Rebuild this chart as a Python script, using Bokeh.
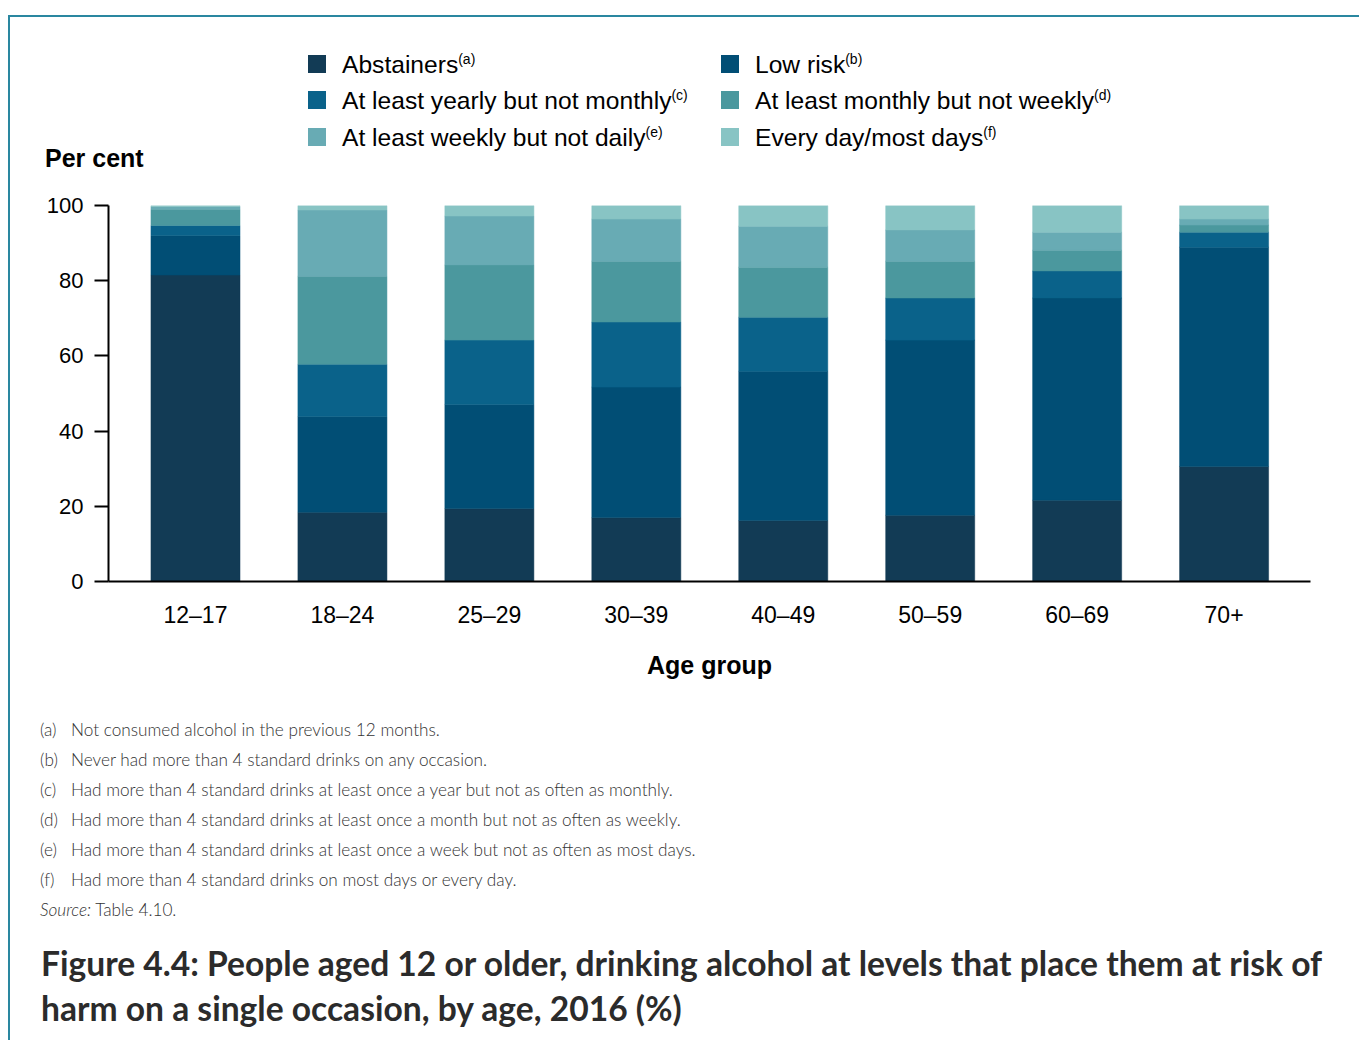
from bokeh.plotting import figure
from bokeh.models import ColumnDataSource, Range1d, FixedTicker, Div
from bokeh.layouts import column, row
from bokeh.embed import file_html
from bokeh.resources import INLINE

# ---------------- data ----------------
age_groups = ["12–17", "18–24", "25–29", "30–39", "40–49", "50–59", "60–69", "70+"]
abstainers = [81.5, 18.4, 19.4, 17.0, 16.2, 17.6, 21.6, 30.6]
low_risk = [10.5, 25.5, 27.7, 34.7, 39.7, 46.6, 53.8, 58.3]
yearly = [2.7, 13.9, 17.1, 17.3, 14.4, 11.2, 7.2, 4.0]
monthly = [4.3, 23.4, 20.0, 16.2, 13.3, 9.8, 5.5, 1.9]
weekly = [0.7, 17.6, 13.0, 11.2, 10.9, 8.3, 4.8, 1.6]
daily = [0.3, 1.2, 2.8, 3.6, 5.5, 6.5, 7.1, 3.6]
y_ticks = [0, 20, 40, 60, 80, 100]

series_keys = ["abstainers", "low_risk", "yearly", "monthly", "weekly", "daily"]
legend_labels = ["Abstainers", "Low risk", "At least yearly but not monthly",
                 "At least monthly but not weekly", "At least weekly but not daily",
                 "Every day/most days"]
legend_sups = ["(a)", "(b)", "(c)", "(d)", "(e)", "(f)"]
colors = ["#123b55", "#014e75", "#0a628a", "#4b989e", "#68abb4", "#88c4c4"]

footnote_keys = ["(a)", "(b)", "(c)", "(d)", "(e)", "(f)"]
footnotes = [
    "Not consumed alcohol in the previous 12 months.",
    "Never had more than 4 standard drinks on any occasion.",
    "Had more than 4 standard drinks at least once a year but not as often as monthly.",
    "Had more than 4 standard drinks at least once a month but not as often as weekly.",
    "Had more than 4 standard drinks at least once a week but not as often as most days.",
    "Had more than 4 standard drinks on most days or every day.",
]
title_lines = [
    "Figure 4.4: People aged 12 or older, drinking alcohol at levels that place them at risk of",
    "harm on a single occasion, by age, 2016 (%)",
]

# ---------------- layout geometry (page pixels) ----------------
W = 1359
TOP_H = 190          # legend band
MID_H = 500          # chart band
BOT_H = 350          # notes + title band
STRIP_W = 10         # left strip carrying the frame border
BORDER = "#2a87a0"
FONT = "Liberation Sans"
FL, FR, FT, FB = 108, 1310, 205, 581   # plot frame edges on the page


def box(left, top, w, h, bg):
    return (f'<div style="position:absolute;left:{left}px;top:{top}px;width:{w}px;'
            f'height:{h}px;background:{bg};"></div>')


def txt(left, yc, html, size, font=FONT, weight="normal", color="black", style="normal", lh=None):
    lh = lh or round(size * 1.2)
    return (f'<div style="position:absolute;left:{left}px;top:{yc - lh / 2:.1f}px;'
            f'font-family:\'{font}\';font-size:{size}px;line-height:{lh}px;font-weight:{weight};'
            f'font-style:{style};color:{color};white-space:nowrap;">{html}</div>')


def wrap(w, h, inner):
    return (f'<div style="position:relative;width:{w}px;height:{h}px;overflow:hidden;'
            f'margin:0;padding:0;">{inner}</div>')


# ---------------- top band: border, legend, y title ----------------
top = box(8, 15, W - 8, 2, BORDER) + box(8, 15, 2, TOP_H - 15, BORDER)
top += txt(45, 158, "Per cent", 25, weight="bold")
col_x = [308, 721]
row_y = [64, 100, 137]
for i, (lab, sup, col) in enumerate(zip(legend_labels, legend_sups, colors)):
    r, c = divmod(i, 2)
    x0, yc = col_x[c], row_y[r]
    top += box(x0, yc - 9, 18, 18, col)
    top += txt(x0 + 34, yc + 0.5,
               f'{lab}<span style="font-size:14px;vertical-align:9px;line-height:0;">{sup}</span>', 24.6)
top_div = Div(text=wrap(W, TOP_H, top), width=W, height=TOP_H, margin=0)

# ---------------- chart band ----------------
strip_div = Div(text=wrap(STRIP_W, MID_H, box(8, 0, 2, MID_H, BORDER)),
                width=STRIP_W, height=MID_H, margin=0)

PW = W - STRIP_W
positions = list(range(len(age_groups)))
source = ColumnDataSource(dict(x=positions, abstainers=abstainers, low_risk=low_risk,
                               yearly=yearly, monthly=monthly, weekly=weekly, daily=daily))

p = figure(width=PW, height=MID_H, output_backend="svg", toolbar_location=None, tools="",
           x_range=Range1d(-0.592, 7.588), y_range=Range1d(0, 100),
           min_border_left=FL - STRIP_W, min_border_right=W - FR,
           min_border_top=FT - TOP_H, min_border_bottom=TOP_H + MID_H - FB, margin=0)
p.outline_line_color = None
p.xgrid.visible = False
p.ygrid.visible = False
p.background_fill_color = "white"
p.border_fill_color = "white"

p.vbar_stack(series_keys, x="x", width=0.606, source=source, color=colors,
             line_color=colors, line_width=0.5)

ya = p.yaxis[0]
ya.ticker = FixedTicker(ticks=y_ticks)
ya.axis_line_width = 2
ya.axis_line_color = "black"
ya.major_tick_line_width = 2
ya.major_tick_line_color = "black"
ya.major_tick_out = 14
ya.major_tick_in = 0
ya.minor_tick_line_color = None
ya.major_label_text_font = FONT
ya.major_label_text_font_size = "22px"
ya.major_label_text_color = "black"
ya.major_label_standoff = 11

xa = p.xaxis[0]
xa.ticker = FixedTicker(ticks=positions)
xa.major_label_overrides = {i: g for i, g in zip(positions, age_groups)}
xa.axis_line_width = 2
xa.axis_line_color = "black"
xa.major_tick_line_color = None
xa.major_tick_out = 0
xa.major_tick_in = 0
xa.minor_tick_line_color = None
xa.major_label_text_font = FONT
xa.major_label_text_font_size = "23px"
xa.major_label_text_color = "black"
xa.major_label_standoff = 20
xa.axis_label = "Age group"
xa.axis_label_text_font = FONT
xa.axis_label_text_font_size = "25px"
xa.axis_label_text_font_style = "bold"
xa.axis_label_text_color = "black"
xa.axis_label_standoff = 20

# ---------------- bottom band: notes and figure title ----------------
Y0 = TOP_H + MID_H
FN_FONT = "Lato"
FN_COL = "#333333"
bot = box(8, 0, 2, BOT_H, BORDER)
for i, (k, t) in enumerate(zip(footnote_keys, footnotes)):
    yc = 729 + 30 * i - Y0
    bot += txt(40, yc, k, 17.2, font=FN_FONT, weight=300, color=FN_COL)
    bot += txt(71, yc, t, 17.2, font=FN_FONT, weight=300, color=FN_COL)
bot += txt(40, 909 - Y0, '<i>Source:</i> Table 4.10.', 17.2, font=FN_FONT, weight=300, color=FN_COL)
for i, t in enumerate(title_lines):
    bot += txt(41, 963 + 45 * i - Y0, t, 33.6, font="Lato", weight="bold", color="#2b2b2b")
bot_div = Div(text=wrap(W, BOT_H, bot), width=W, height=BOT_H, margin=0)

layout = column(top_div, row(strip_div, p, spacing=0), bot_div, spacing=0)

open("out.html", "w").write(file_html(layout, INLINE))
